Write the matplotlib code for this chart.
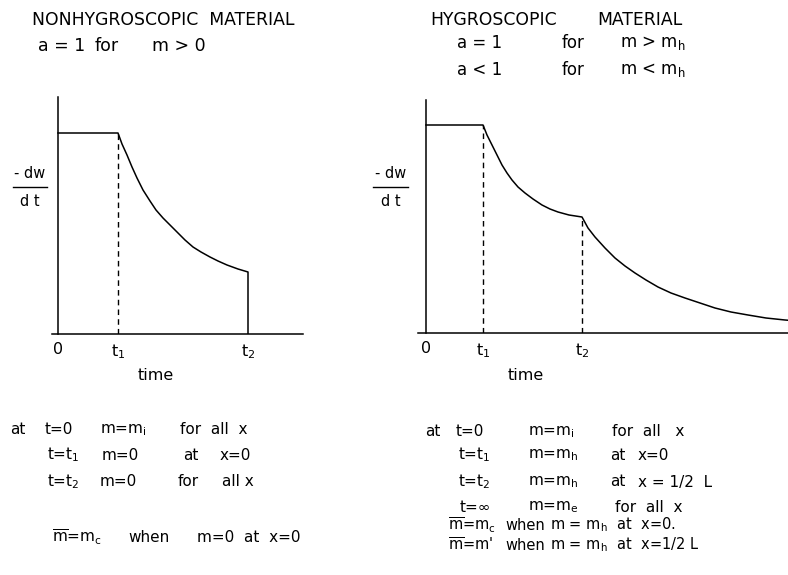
import matplotlib
matplotlib.use("Agg")
import matplotlib.pyplot as plt
from matplotlib.lines import Line2D

# ---- data (arbitrary units) ----
left_t = [0, 6.0, 6.4, 6.9, 7.4, 7.9, 8.5, 9.2, 9.8, 10.5, 11.2, 11.9, 12.7,
          13.5, 14.3, 15.2, 16.0, 16.9, 18.0, 19.0, 19.0]
left_rate = [20.1, 20.1, 19.0, 17.9, 16.7, 15.6, 14.4, 13.3, 12.4, 11.6,
             10.9, 10.2, 9.4, 8.7, 8.2, 7.7, 7.3, 6.9, 6.5, 6.2, 0]
left_t1, left_t2 = 6.0, 19.0

right_t = [0, 5.7, 6.1, 6.6, 7.1, 7.6, 8.1, 8.6, 9.2, 9.9, 10.7, 11.6, 12.4,
           13.2, 14.3, 15.6, 16.2, 16.9, 17.9, 18.9, 19.9, 20.9, 22.0, 23.2,
           24.5, 25.9, 27.4, 28.9, 30.5, 32.2, 34.0, 35.9, 36.5]
right_rate = [20.8, 20.8, 19.8, 18.8, 17.8, 16.8, 16.0, 15.3, 14.6, 14.0,
              13.4, 12.8, 12.4, 12.1, 11.8, 11.6, 10.5, 9.6, 8.5, 7.5, 6.7,
              6.0, 5.3, 4.6, 4.0, 3.5, 3.0, 2.5, 2.1, 1.8, 1.5, 1.3, 1.25]
right_t1, right_t2 = 5.7, 15.6
right_t2_rate = 11.6

tick_labels = ["0", r"t$_\mathregular{1}$", r"t$_\mathregular{2}$"]

W, H = 788, 575
plt.rcParams["font.family"] = "DejaVu Sans"
fig = plt.figure(figsize=(W / 100, H / 100), dpi=100)

BODY = 11


def px(x, y):
    return x / W, 1 - y / H


def txt(x, y, s, size=BODY, **kw):
    fx, fy = px(x, y)
    fig.text(fx, fy, s, size=size, va="center", ha=kw.pop("ha", "left"), **kw)


def setup(ax, ticks):
    for s in ["top", "right"]:
        ax.spines[s].set_visible(False)
    ax.spines["left"].set_position(("data", 0))
    ax.spines["left"].set_linewidth(1.1)
    ax.spines["bottom"].set_linewidth(1.1)
    ax.set_yticks([])
    ax.set_xticks(ticks, labels=tick_labels, size=11.5)
    ax.tick_params(axis="x", length=0, pad=6)
    ax.patch.set_alpha(0)


# left panel
axl = fig.add_axes([52 / W, 1 - 334 / H, 251 / W, 237 / H])
axl.plot(left_t, left_rate, color="black", lw=1.1)
axl.vlines(left_t1, 0, left_rate[1], colors="black", lw=1.0,
           linestyles=(0, (4, 3)))
axl.set_xlim(-0.6, 24.5)
axl.set_ylim(0, 23.7)
setup(axl, [0, left_t1, left_t2])

# right panel
axr = fig.add_axes([418 / W, 1 - 333 / H, 370 / W, 233 / H])
axr.plot(right_t, right_rate, color="black", lw=1.1)
axr.vlines([right_t1, right_t2], 0, [right_rate[1], right_t2_rate],
           colors="black", lw=1.0, linestyles=(0, (4, 3)))
axr.set_xlim(-0.8, 36.2)
axr.set_ylim(0, 23.3)
setup(axr, [0, right_t1, right_t2])

txt(156, 375, "time", size=11.5, ha="center")
txt(526, 375, "time", size=11.5, ha="center")

# -dw/dt labels
for x0, x1, y in [(13, 47, 187), (373, 408, 187)]:
    xc = (x0 + x1) / 2
    txt(xc, y - 13, "- dw", size=10.5, ha="center")
    txt(xc, y + 14, "d t", size=10.5, ha="center")
    a, b = px(x0, y)
    c, _ = px(x1, y)
    fig.add_artist(Line2D([a, c], [b, b], color="black", lw=1.0))

# titles
txt(32, 20, "NONHYGROSCOPIC  MATERIAL", size=12.4)
txt(38, 46, "a = 1", size=12.5)
txt(95, 46, "for", size=12.5)
txt(152, 46, "m > 0", size=12.5)

txt(430, 20, "HYGROSCOPIC", size=12.4)
txt(597, 20, "MATERIAL", size=12.4)
txt(457, 43, "a = 1", size=12)
txt(562, 43, "for", size=12)
txt(620, 43, r"m > m$_\mathregular{h}$", size=12)
txt(457, 70, "a < 1", size=12)
txt(562, 70, "for", size=12)
txt(620, 70, r"m < m$_\mathregular{h}$", size=12)

mbar = r"$\overline{\mathregular{m}}$"

# left notes
txt(10, 430, "at")
txt(45, 430, "t=0")
txt(100, 430, r"m=m$_\mathregular{i}$")
txt(180, 430, "for  all  x")
txt(47, 455, r"t=t$_\mathregular{1}$")
txt(102, 455, "m=0")
txt(183, 455, "at")
txt(220, 455, "x=0")
txt(47, 482, r"t=t$_\mathregular{2}$")
txt(100, 482, "m=0")
txt(178, 482, "for")
txt(222, 482, "all x")
txt(52, 537, mbar + r"=m$_\mathregular{c}$")
txt(128, 537, "when")
txt(197, 537, "m=0  at  x=0")

# right notes
txt(425, 432, "at")
txt(456, 432, "t=0")
txt(528, 432, r"m=m$_\mathregular{i}$")
txt(612, 432, "for  all   x")
txt(458, 455, r"t=t$_\mathregular{1}$")
txt(528, 455, r"m=m$_\mathregular{h}$")
txt(610, 455, "at")
txt(638, 455, "x=0")
txt(458, 482, r"t=t$_\mathregular{2}$")
txt(528, 482, r"m=m$_\mathregular{h}$")
txt(610, 482, "at")
txt(638, 482, "x = 1/2  L")
txt(460, 507, "t=\u221e")
txt(528, 507, r"m=m$_\mathregular{e}$")
txt(615, 507, "for  all  x")
txt(448, 525, mbar + r"=m$_\mathregular{c}$", size=10.5)
txt(505, 525, "when", size=10.5)
txt(550, 525, r"m = m$_\mathregular{h}$  at  x=0.", size=10.5)
txt(448, 545, mbar + "=m'", size=10.5)
txt(505, 545, "when", size=10.5)
txt(550, 545, r"m = m$_\mathregular{h}$  at  x=1/2 L", size=10.5)

fig.savefig("out.png", dpi=100)
